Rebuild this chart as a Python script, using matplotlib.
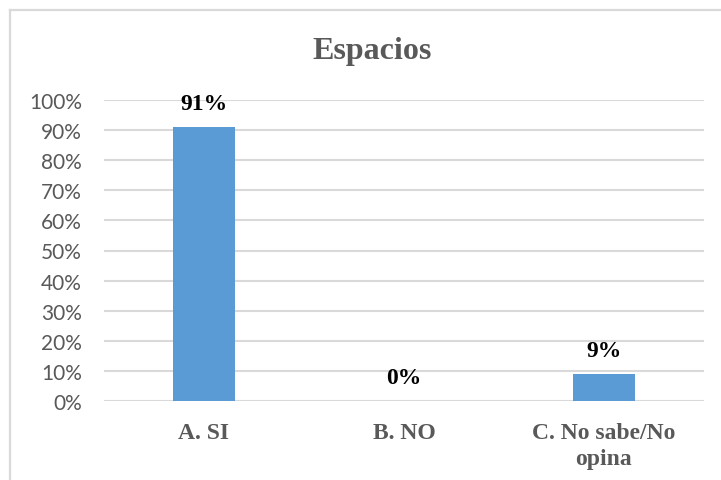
import matplotlib
matplotlib.use("Agg")
import matplotlib.pyplot as plt
from matplotlib.lines import Line2D
from matplotlib.ticker import FixedLocator, FuncFormatter

categories = ["A. SI", "B. NO", "C. No sabe/No\nopina"]
values = [0.91, 0.00, 0.09]
value_labels = ["91%", "0%", "9%"]
yticks = [i / 10 for i in range(11)]

W, H = 721, 481
fig = plt.figure(figsize=(W / 100, H / 100), dpi=100)

# chart frame (top and left edges visible)
frame_color = "#D9D9D9"
fig.add_artist(Line2D([10 / W, 10 / W], [0, 1 - 11 / H], transform=fig.transFigure,
                      color=frame_color, lw=1.6))
fig.add_artist(Line2D([10 / W, 1], [1 - 11 / H, 1 - 11 / H], transform=fig.transFigure,
                      color=frame_color, lw=1.6))

ax = fig.add_axes([104 / W, 79 / H, 600 / W, 301 / H])
x = range(len(categories))
ax.bar(x, values, width=0.313, color="#5B9BD5", zorder=3)

ax.set_xlim(-0.5, 2.5)
ax.set_ylim(0, 1)
ax.yaxis.set_major_locator(FixedLocator(yticks))
ax.yaxis.set_major_formatter(FuncFormatter(lambda v, p: f"{v * 100:.0f}%"))
ax.grid(axis="y", color="#D9D9D9", lw=1.5, zorder=0)
ax.set_axisbelow(True)
for s in ax.spines.values():
    s.set_visible(False)
ax.tick_params(axis="both", length=0)
ax.tick_params(axis="y", pad=16, labelsize=15, labelcolor="#595959")
for lab in ax.get_yticklabels():
    lab.set_fontfamily("Lato")

ax.set_xticks(list(x))
ax.set_xticklabels(categories, fontfamily="Liberation Serif", fontweight="bold",
                   fontsize=17, color="#595959", linespacing=1.35)
ax.tick_params(axis="x", pad=15)

for xi, v, t in zip(x, values, value_labels):
    ax.annotate(t, (xi, v), xytext=(0, 17), textcoords="offset points",
                ha="center", va="center", fontfamily="Liberation Serif",
                fontweight="bold", fontsize=17, color="black")

fig.text(372 / W, 1 - 51 / H, "Espacios", ha="center", va="center",
         fontfamily="Liberation Serif", fontweight="bold", fontsize=23, color="#595959")

fig.savefig("out.png", dpi=100)
